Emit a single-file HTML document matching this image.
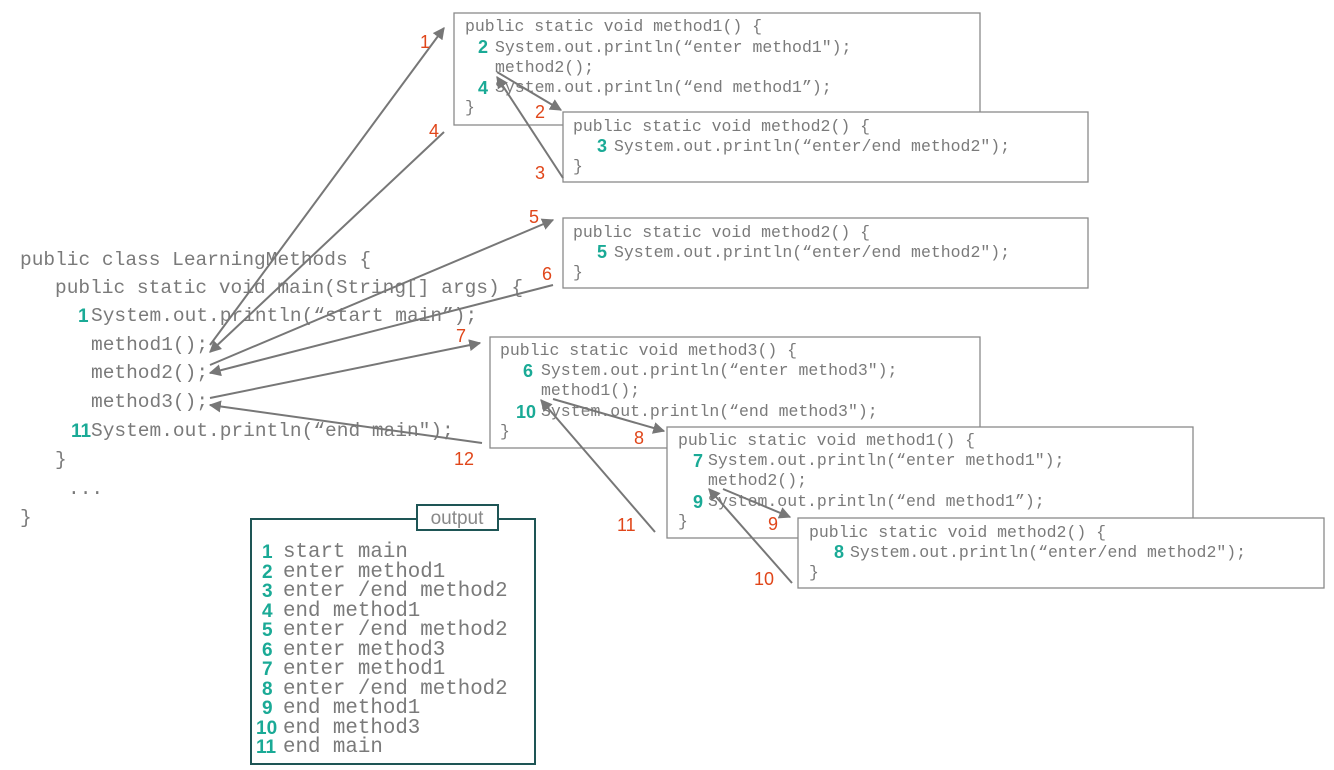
<!DOCTYPE html>
<html><head><meta charset="utf-8"><style>
html,body{margin:0;padding:0;background:#fff;}
svg{display:block}
.c{font-family:"Liberation Mono",monospace;fill:#7a7a7a;}
.b{font-size:16.5px}
.m{font-size:19.5px}
.o{font-size:20.8px}
.t{font-family:"Liberation Sans",sans-serif;font-weight:bold;fill:#1aaa96;}
.r{font-family:"Liberation Sans",sans-serif;fill:#e0461a;font-size:18px}
.box{fill:#fff;stroke:#8a8a8a;stroke-width:1.3}
.a{stroke:#777;stroke-width:2;fill:none;marker-end:url(#ah)}
</style></head><body>
<svg width="1334" height="770" viewBox="0 0 1334 770">
<defs><marker id="ah" viewBox="0 0 10 10" refX="9" refY="5" markerWidth="6" markerHeight="6" orient="auto"><path d="M0,0 L10,5 L0,10 z" fill="#777"/></marker></defs>

<g class="c m">
<text x="20" y="265">public class LearningMethods {</text>
<text x="55" y="293">public static void main(String[] args) {</text>
<text x="91" y="321">System.out.println(“start main”);</text>
<text x="91" y="350">method1();</text>
<text x="91" y="378">method2();</text>
<text x="91" y="407">method3();</text>
<text x="91" y="436">System.out.println(“end main");</text>
<text x="55" y="465">}</text>
<text x="68" y="494">...</text>
<text x="20" y="523">}</text>
</g>
<text class="t" x="78" y="322" font-size="19">1</text>
<text class="t" x="71" y="437" font-size="19">11</text>

<rect class="box" x="454" y="13" width="526" height="112"/>
<g class="c b">
<text x="465" y="31">public static void method1() {</text>
<text x="495" y="52">System.out.println(“enter method1");</text>
<text x="495" y="72">method2();</text>
<text x="495" y="92">System.out.println(“end method1”);</text>
<text x="465" y="112">}</text>
</g>
<text class="t" x="478" y="53" font-size="18">2</text>
<text class="t" x="478" y="94" font-size="18">4</text>

<rect class="box" x="563" y="112" width="525" height="70"/>
<g class="c b">
<text x="573" y="131">public static void method2() {</text>
<text x="614" y="151">System.out.println(“enter/end method2");</text>
<text x="573" y="171">}</text>
</g>
<text class="t" x="597" y="152" font-size="18">3</text>

<rect class="box" x="563" y="218" width="525" height="70"/>
<g class="c b">
<text x="573" y="237">public static void method2() {</text>
<text x="614" y="257">System.out.println(“enter/end method2");</text>
<text x="573" y="277">}</text>
</g>
<text class="t" x="597" y="258" font-size="18">5</text>

<rect class="box" x="490" y="337" width="490" height="111"/>
<g class="c b">
<text x="500" y="355">public static void method3() {</text>
<text x="541" y="375">System.out.println(“enter method3");</text>
<text x="541" y="395">method1();</text>
<text x="541" y="416">System.out.println(“end method3");</text>
<text x="500" y="436">}</text>
</g>
<text class="t" x="523" y="377" font-size="18">6</text>
<text class="t" x="516" y="418" font-size="18">10</text>

<rect class="box" x="667" y="427" width="526" height="111"/>
<g class="c b">
<text x="678" y="445">public static void method1() {</text>
<text x="708" y="465">System.out.println(“enter method1");</text>
<text x="708" y="485">method2();</text>
<text x="708" y="506">System.out.println(“end method1”);</text>
<text x="678" y="526">}</text>
</g>
<text class="t" x="693" y="467" font-size="18">7</text>
<text class="t" x="693" y="508" font-size="18">9</text>

<rect class="box" x="798" y="518" width="526" height="70"/>
<g class="c b">
<text x="809" y="537">public static void method2() {</text>
<text x="850" y="557">System.out.println(“enter/end method2");</text>
<text x="809" y="577">}</text>
</g>
<text class="t" x="834" y="558" font-size="18">8</text>

<line class="a" x1="210" y1="345" x2="444" y2="28"/>
<line class="a" x1="444" y1="132" x2="210" y2="352"/>
<line class="a" x1="210" y1="365" x2="553" y2="220"/>
<line class="a" x1="553" y1="285" x2="210" y2="373"/>
<line class="a" x1="210" y1="398" x2="480" y2="343"/>
<line class="a" x1="482" y1="443" x2="210" y2="405"/>
<line class="a" x1="497" y1="72" x2="561" y2="110"/>
<line class="a" x1="563" y1="178" x2="497" y2="77"/>
<line class="a" x1="553" y1="399" x2="664" y2="431"/>
<line class="a" x1="655" y1="532" x2="541" y2="400"/>
<line class="a" x1="723" y1="489" x2="790" y2="517"/>
<line class="a" x1="792" y1="583" x2="709" y2="489"/>

<text class="r" x="420" y="48">1</text>
<text class="r" x="429" y="137">4</text>
<text class="r" x="535" y="118">2</text>
<text class="r" x="535" y="179">3</text>
<text class="r" x="529" y="223">5</text>
<text class="r" x="542" y="280">6</text>
<text class="r" x="456" y="342">7</text>
<text class="r" x="454" y="465">12</text>
<text class="r" x="634" y="444">8</text>
<text class="r" x="617" y="531">11</text>
<text class="r" x="768" y="530">9</text>
<text class="r" x="754" y="585">10</text>

<rect x="251" y="519" width="284" height="245" fill="#fff" stroke="#1e5555" stroke-width="2"/>
<rect x="417" y="505" width="81" height="25" fill="#fff" stroke="#1e5555" stroke-width="2"/>
<text x="457" y="524" text-anchor="middle" font-family="Liberation Sans,sans-serif" font-size="19" fill="#888">output</text>
<g class="c o">
<text x="283" y="557">start main</text>
<text x="283" y="577">enter method1</text>
<text x="283" y="596">enter /end method2</text>
<text x="283" y="616">end method1</text>
<text x="283" y="635">enter /end method2</text>
<text x="283" y="655">enter method3</text>
<text x="283" y="674">enter method1</text>
<text x="283" y="694">enter /end method2</text>
<text x="283" y="713">end method1</text>
<text x="283" y="733">end method3</text>
<text x="283" y="752">end main</text>
</g>
<g class="t" font-size="19">
<text x="262" y="558">1</text><text x="262" y="578">2</text><text x="262" y="597">3</text>
<text x="262" y="617">4</text><text x="262" y="636">5</text><text x="262" y="656">6</text>
<text x="262" y="675">7</text><text x="262" y="695">8</text><text x="262" y="714">9</text>
<text x="256" y="734">10</text><text x="256" y="753">11</text>
</g>
</svg>
</body></html>
